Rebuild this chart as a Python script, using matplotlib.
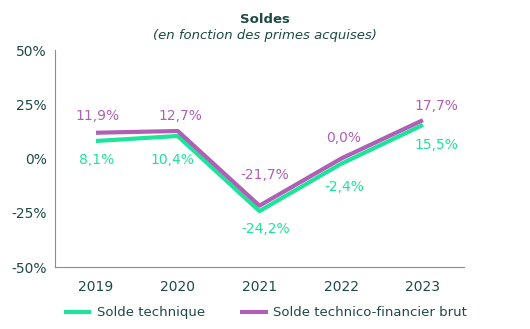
import matplotlib.pyplot as plt
from matplotlib.ticker import FuncFormatter

years = ["2019", "2020", "2021", "2022", "2023"]
solde_technique = [8.1, 10.4, -24.2, -2.4, 15.5]
solde_financier = [11.9, 12.7, -21.7, 0.0, 17.7]

GREEN = "#1de39b"
PURPLE = "#b060b4"
TEXT = "#1d4a44"

# label offsets in pixels (dx, dy up) to keep the values clear of the lines
fin_dx = [2, 3, 5, 2, 13]
fin_dy = [17, 15, 31, 21, 14]
tech_dx = [1, -5, 6, 3, 13]
tech_dy = [-19, -24, -17.5, -23, -20]

plt.rcParams['font.family'] = ['DejaVu Sans']

fig = plt.figure(figsize=(5.3, 3.29), dpi=100)
ax = fig.add_axes([0.104, 0.188, 0.771, 0.660])

x = range(len(years))
ax.plot(x, solde_technique, color=GREEN, lw=3, label="Solde technique", solid_capstyle='butt')
ax.plot(x, solde_financier, color=PURPLE, lw=3, label="Solde technico-financier brut", solid_capstyle='butt')


def fr(v):
    return f"{v:.1f}%".replace(".", ",")


px = 72 / fig.dpi
for i, (g, p) in enumerate(zip(solde_technique, solde_financier)):
    ax.annotate(fr(p), (i, p), xytext=(fin_dx[i] * px, fin_dy[i] * px), textcoords="offset points",
                ha="center", va="center", color=PURPLE, fontsize=10)
    ax.annotate(fr(g), (i, g), xytext=(tech_dx[i] * px, tech_dy[i] * px), textcoords="offset points",
                ha="center", va="center", color=GREEN, fontsize=10)

ax.set_ylim(-50, 50)
ax.set_yticks([-50, -25, 0, 25, 50])
ax.yaxis.set_major_formatter(FuncFormatter(lambda v, _: f"{v:.0f}%"))
ax.set_xlim(-0.5, 4.5)
ax.set_xticks(list(x))
ax.set_xticklabels(years)
ax.tick_params(axis="both", length=0, colors=TEXT, labelsize=10)
ax.tick_params(axis="y", pad=6)
ax.tick_params(axis="x", pad=9)
for s in ["top", "right"]:
    ax.spines[s].set_visible(False)
for s in ["left", "bottom"]:
    ax.spines[s].set_color("#8c8c8c")

fig.text(0.5, 0.93, "Soldes", ha="center", fontsize=9.5, fontweight="bold", color=TEXT)
fig.text(0.5, 0.88, "(en fonction des primes acquises)", ha="center", fontsize=9.5,
         style="italic", color=TEXT)

ax.legend(loc="upper center", bbox_to_anchor=(0.515, -0.125), ncol=2, frameon=False,
          fontsize=9.5, labelcolor=TEXT, handlelength=2.1, columnspacing=2.6,
          handletextpad=0.45)

fig.savefig("out.png", dpi=100)
